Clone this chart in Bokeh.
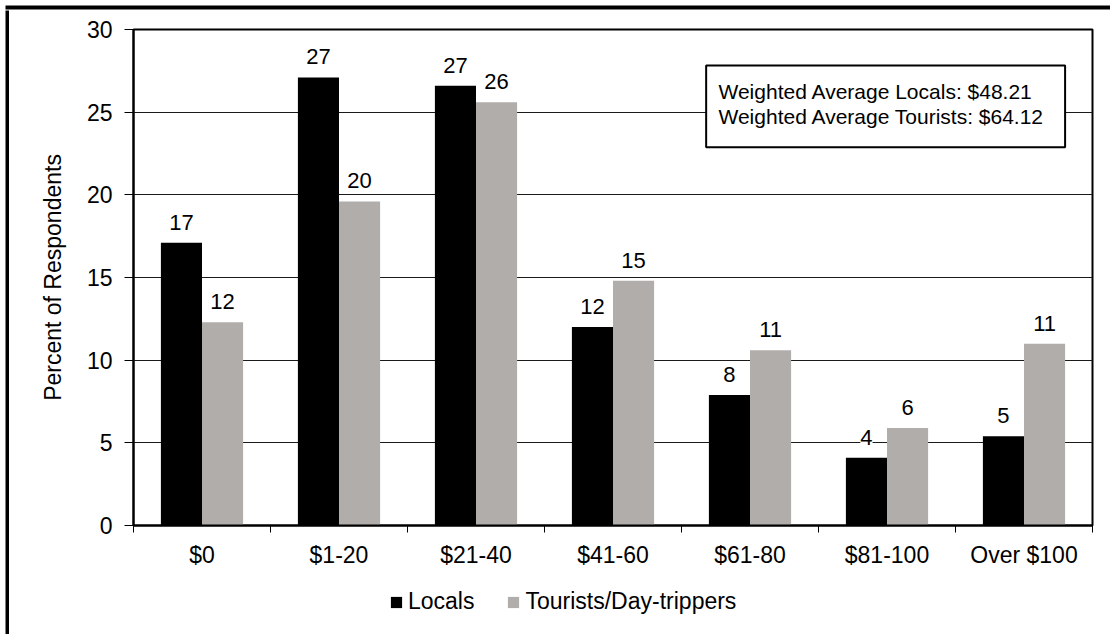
from bokeh.plotting import figure
from bokeh.layouts import column, row
from bokeh.models import (ColumnDataSource, FixedTicker, LabelSet, Label, Legend,
                          LegendItem, BoxAnnotation, Range1d)
from bokeh.core.properties import value
from bokeh.embed import file_html
from bokeh.resources import INLINE

# ---------------- data ----------------
categories = ["$0", "$1-20", "$21-40", "$41-60", "$61-80", "$81-100", "Over $100"]
locals_pct = [17.1, 27.1, 26.6, 12.0, 7.9, 4.1, 5.4]
tourists_pct = [12.3, 19.6, 25.6, 14.8, 10.6, 5.9, 11.0]
y_ticks = [0, 5, 10, 15, 20, 25, 30]
series_names = ["Locals", "Tourists/Day-trippers"]
note_lines = ["Weighted Average Locals: $48.21", "Weighted Average Tourists: $64.12"]
y_title = "Percent of Respondents"

FONT = "Liberation Sans"
LOCAL_COLOR = "#000000"
TOUR_COLOR = "#B0ADAB"

n = len(categories)
centers = [i + 0.5 for i in range(n)]
bar_w = 0.3

src = ColumnDataSource(dict(
    x_loc=[c - bar_w / 2 for c in centers],
    x_tour=[c + bar_w / 2 for c in centers],
    loc=locals_pct,
    tour=tourists_pct,
    loc_txt=[str(int(round(v))) for v in locals_pct],
    tour_txt=[str(int(round(v))) for v in tourists_pct],
))

TOP_H = 10
ML, MR, MT, MB = 124, 17, 19, 55
FW, FH = 959, 496
p = figure(frame_width=FW, frame_height=FH,
           min_border_left=ML, min_border_right=MR,
           min_border_top=MT, min_border_bottom=MB,
           x_range=Range1d(0, n), y_range=Range1d(y_ticks[0], y_ticks[-1]),
           output_backend="svg", toolbar_location=None)

p.background_fill_color = "white"
p.border_fill_color = "white"
p.outline_line_color = "black"
p.outline_line_width = 2

# grid
p.xgrid.grid_line_color = None
p.ygrid.ticker = FixedTicker(ticks=y_ticks)
p.ygrid.grid_line_color = "#1a1a1a"
p.ygrid.grid_line_width = 1

# bars
r_loc = p.vbar(x="x_loc", top="loc", width=bar_w, source=src,
               fill_color=LOCAL_COLOR, line_color=None)
r_tour = p.vbar(x="x_tour", top="tour", width=bar_w, source=src,
                fill_color=TOUR_COLOR, line_color=None)

# value labels
for xcol, ycol, tcol in (("x_loc", "loc", "loc_txt"), ("x_tour", "tour", "tour_txt")):
    ls = LabelSet(x=xcol, y=ycol, text=tcol, source=src,
                  text_align="center", text_baseline="bottom", y_offset=13,
                  text_font=value(FONT), text_font_size="22px", text_color="black",
                  background_fill_color="white")
    p.add_layout(ls)

# x axis
xa = p.xaxis[0]
xa.ticker = FixedTicker(ticks=centers, minor_ticks=[i for i in range(n + 1)])
xa.major_label_overrides = {c: cat for c, cat in zip(centers, categories)}
xa.major_tick_line_color = None
xa.major_tick_out = 7
xa.major_tick_in = 0
xa.minor_tick_line_color = "black"
xa.minor_tick_line_width = 1
xa.minor_tick_out = 7
xa.minor_tick_in = 0
xa.axis_line_color = "black"
xa.axis_line_width = 2
xa.major_label_text_font = FONT
xa.major_label_text_font_size = "23px"
xa.major_label_text_color = "black"
xa.major_label_standoff = 9

# y axis
ya = p.yaxis[0]
ya.ticker = FixedTicker(ticks=y_ticks)
ya.minor_tick_line_color = None
ya.major_tick_out = 9
ya.major_tick_in = 0
ya.major_tick_line_color = "black"
ya.axis_line_color = "black"
ya.axis_line_width = 2
ya.major_label_text_font = FONT
ya.major_label_text_font_size = "23px"
ya.major_label_text_color = "black"
ya.major_label_standoff = 12
ya.axis_label = y_title
ya.axis_label_text_font = FONT
ya.axis_label_text_font_size = "23px"
ya.axis_label_text_font_style = "normal"
ya.axis_label_text_color = "black"
ya.axis_label_standoff = 18

# note box
note_box = BoxAnnotation(left=4.18, right=6.80, top=27.82, bottom=22.88,
                         fill_color="white", fill_alpha=1.0,
                         line_color="black", line_alpha=1.0, line_width=2,
                         level="annotation")
p.add_layout(note_box)
note = Label(x=4.27, y=26.95, text="\n".join(note_lines),
             text_align="left", text_baseline="top",
             text_font=FONT, text_font_size="21px", text_color="black",
             text_line_height=1.1)
p.add_layout(note)

PW = ML + FW + MR
PH = MT + FH + MB

# legend strip below the chart (a small companion figure)
LEG_H = 54
p2 = figure(frame_width=PW, frame_height=LEG_H, min_border=0,
            x_range=Range1d(-2, -1), y_range=Range1d(0, 1),
            x_axis_location=None, y_axis_location=None,
            output_backend="svg", toolbar_location=None)
p2.grid.visible = False
p2.outline_line_color = None
p2.background_fill_color = "white"
p2.border_fill_color = "white"
g_loc = p2.vbar(x="x_loc", top="loc", width=bar_w, source=src,
                fill_color=LOCAL_COLOR, line_color=None)
g_tour = p2.vbar(x="x_tour", top="tour", width=bar_w, source=src,
                 fill_color=TOUR_COLOR, line_color=None)
legend = Legend(items=[LegendItem(label=series_names[0], renderers=[g_loc]),
                       LegendItem(label=series_names[1], renderers=[g_tour])],
                orientation="horizontal", location=(380, 19),
                padding=0, margin=0, spacing=32,
                glyph_width=14, glyph_height=14, label_standoff=5,
                label_text_font=FONT, label_text_font_size="23px",
                label_text_color="black",
                background_fill_alpha=0, border_line_alpha=0)
p2.add_layout(legend)

# outer chart border: top edge (a black band inside a 10px strip figure)
top_bar = figure(frame_width=1110, frame_height=TOP_H, min_border=0,
                 x_range=Range1d(0, 1), y_range=Range1d(0, TOP_H),
                 x_axis_location=None, y_axis_location=None,
                 output_backend="svg", toolbar_location=None)
top_bar.grid.visible = False
top_bar.outline_line_color = None
top_bar.background_fill_color = "white"
top_bar.border_fill_color = "white"
top_bar.quad(left=[0.0045], right=[1], bottom=[TOP_H - 7], top=[TOP_H - 3],
             fill_color="black", line_color=None)

# outer chart border: left edge
left_bar = figure(frame_width=4, frame_height=PH + LEG_H,
                  min_border_left=5, min_border_top=0,
                  min_border_right=0, min_border_bottom=0,
                  x_axis_location=None, y_axis_location=None,
                  output_backend="svg", toolbar_location=None)
left_bar.grid.visible = False
left_bar.outline_line_color = None
left_bar.background_fill_color = "black"
left_bar.border_fill_color = "white"

layout = column(top_bar, row(left_bar, column(p, p2, spacing=0), spacing=0),
                spacing=0)

open("out.html", "w").write(file_html(layout, INLINE))
